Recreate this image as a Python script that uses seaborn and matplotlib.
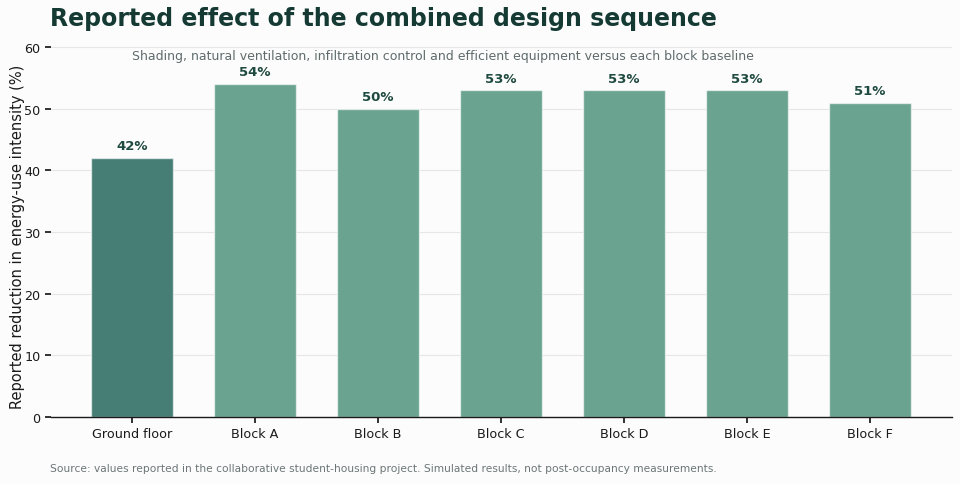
import matplotlib
matplotlib.use("Agg")
import matplotlib.pyplot as plt
import seaborn as sns
import pandas as pd

# Chart data
blocks = ["Ground floor", "Block A", "Block B", "Block C", "Block D", "Block E", "Block F"]
reduction_pct = [42, 54, 50, 53, 53, 53, 51]

TITLE = "Reported effect of the combined design sequence"
SUBTITLE = ("Shading, natural ventilation, infiltration control and efficient "
            "equipment versus each block baseline")
SOURCE = ("Source: values reported in the collaborative student-housing project. "
          "Simulated results, not post-occupancy measurements.")

BG = "#fcfcfc"
DARK = "#143a33"
GROUND = "#467d75"
BLOCK = "#6aa390"

sns.set_theme(style="white")
plt.rcParams["font.family"] = ["DejaVu Sans"]

df = pd.DataFrame({"block": blocks, "reduction": reduction_pct})
palette = {b: (GROUND if b == "Ground floor" else BLOCK) for b in blocks}

fig = plt.figure(figsize=(9.6, 4.85), dpi=100, facecolor=BG)
ax = fig.add_axes([0.053, 0.138, 0.939, 0.763])
ax.set_facecolor(BG)

sns.barplot(data=df, x="block", y="reduction", hue="block", palette=palette,
            legend=False, width=0.67, ax=ax, edgecolor=(1, 1, 1, 0.6),
            linewidth=1, saturation=1)

for i, v in enumerate(reduction_pct):
    ax.annotate(f"{v}%", (i, v), xytext=(0, 4), textcoords="offset points",
                ha="center", va="bottom", fontsize=9.5, fontweight="bold",
                color="#1f4a40")

ax.set_xlim(-0.66, 6.67)
ax.set_ylim(0, 60)
ax.set_yticks(range(0, 61, 10))
ax.yaxis.grid(True, color="#e6e6e6", linewidth=0.8)
ax.set_axisbelow(True)
ax.set_xlabel("")
ax.set_ylabel("Reported reduction in energy-use intensity (%)", fontsize=10.5,
              color="#1a1a1a")
ax.yaxis.set_label_coords(-0.029, 0.49)
ax.tick_params(axis="both", labelsize=9.2, colors="#1a1a1a", length=4,
               left=True, bottom=True)
for s in ["top", "right", "left"]:
    ax.spines[s].set_visible(False)
ax.spines["bottom"].set_color("#1a1a1a")
ax.spines["bottom"].set_linewidth(1)

fig.text(0.052, 0.960, TITLE, fontsize=17, fontweight="bold", color=DARK,
         ha="left", va="center")
fig.text(0.461, 0.884, SUBTITLE, fontsize=9, color="#5f6b6b", ha="center",
         va="center")
fig.text(0.052, 0.032, SOURCE, fontsize=7.7, color="#6b7575", ha="left",
         va="center")

fig.savefig("out.png", dpi=100, facecolor=BG)
